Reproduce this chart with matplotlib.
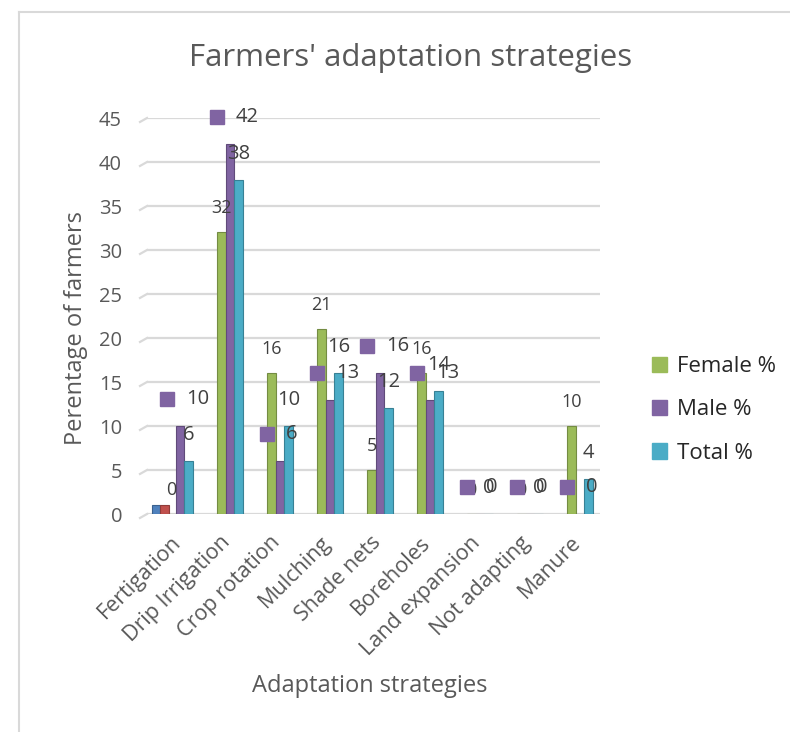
import numpy as np
import matplotlib
matplotlib.use('Agg')
import matplotlib.pyplot as plt
from matplotlib.transforms import offset_copy, ScaledTranslation
from matplotlib.patches import Patch
from matplotlib.lines import Line2D

plt.rcParams['font.family'] = ['Open Sans', 'DejaVu Sans']

# data
strategies = ['Fertigation', 'Drip Irrigation', 'Crop rotation', 'Mulching', 'Shade nets',
              'Boreholes', 'Land expansion', 'Not adapting', 'Manure']
female = [0, 32, 16, 21, 5, 16, 0, 0, 10]
male = [10, 42, 6, 13, 16, 13, 0, 0, 0]
total = [6, 38, 10, 16, 12, 14, 0, 0, 4]
# two stray unlabeled series that only show at Fertigation
stray_blue = [1]
stray_red = [1]

c_green = '#9BBB59'
c_purple = '#8064A2'
c_cyan = '#4BACC6'
c_blue = '#4F81BD'
c_red = '#C0504D'
grey = '#595959'
lbl = '#404040'

fig = plt.figure(figsize=(7.9, 7.32), dpi=100)
ax = fig.add_axes([147/790, 1-514/732, (600-147)/790, (514-118)/732])

x = np.arange(len(strategies))
w = 0.17

def shade(c, f=0.75):
    r, g, b = matplotlib.colors.to_rgb(c)
    return (r*f, g*f, b*f)

ax.bar(x[:1]-3*w+0.03, stray_blue, w, color=c_blue, edgecolor=shade(c_blue), lw=0.8, zorder=3)
ax.bar(x[:1]-2*w+0.03, stray_red, w, color=c_red, edgecolor=shade(c_red), lw=0.8, zorder=3)
ax.bar(x-w, female, w, color=c_green, edgecolor=shade(c_green), lw=0.8, zorder=3)
ax.bar(x, male, w, color=c_purple, edgecolor=shade(c_purple), lw=0.8, zorder=3)
ax.bar(x+w, total, w, color=c_cyan, edgecolor=shade(c_cyan), lw=0.8, zorder=3)

ax.set_xlim(-0.66, 8.4)
ax.set_ylim(0, 45)
ax.set_yticks(np.arange(0, 46, 5))
ax.yaxis.grid(True, color='#D9D9D9', lw=1.6, zorder=0)
ax.set_axisbelow(True)
for s in ax.spines.values():
    s.set_visible(False)
ax.tick_params(axis='both', length=0, colors=grey)
ax.tick_params(axis='y', labelsize=14.5, pad=18)
ax.set_xticks(x)
ax.set_xticklabels(strategies, rotation=45, ha='right', rotation_mode='anchor', fontsize=15.5)
ax.tick_params(axis='x', pad=13)
shift = ScaledTranslation(-10/100, 0, fig.dpi_scale_trans)
for t in ax.get_xticklabels():
    t.set_transform(t.get_transform() + shift)

# little slanted stubs at the left end of the gridlines
for v in np.arange(0, 46, 5):
    ax.plot([-0.8, -0.66], [v-0.45, v], color='#D9D9D9', lw=1.6, clip_on=False, zorder=0)

# data labels
t_f = offset_copy(ax.transData, fig=fig, x=0, y=24, units='dots')
t_t = offset_copy(ax.transData, fig=fig, x=0, y=26, units='dots')
t_mk = offset_copy(ax.transData, fig=fig, x=-13, y=27, units='dots')
t_mt = offset_copy(ax.transData, fig=fig, x=6, y=27, units='dots')
for i in range(len(strategies)):
    ax.text(x[i]-w, female[i], str(female[i]), transform=t_f, ha='center', va='center',
            fontsize=13, color=lbl)
    ax.text(x[i]+w, total[i], str(total[i]), transform=t_t, ha='center', va='center',
            fontsize=14.5, color=lbl)
    ax.plot(x[i], male[i], 's', transform=t_mk, ms=10, color=c_purple, clip_on=False, zorder=5)
    ax.text(x[i], male[i], str(male[i]), transform=t_mt, ha='left', va='center',
            fontsize=14.5, color=lbl, zorder=6)

handles = [Patch(color=c_green), Patch(color=c_purple), Patch(color=c_cyan)]
fig.legend(handles, ['Female %', 'Male %', 'Total %'], loc='center left',
           bbox_to_anchor=(632/790, 1-410/732), frameon=False, fontsize=16,
           handlelength=0.68, handleheight=0.68, handletextpad=0.45, labelspacing=1.0,
           labelcolor='#262626')

fig.text(0.52, 1-58/732, "Farmers' adaptation strategies", ha='center', va='center',
         fontsize=22.5, color=grey)
fig.text(76/790, 1-328/732, 'Perentage of farmers', rotation=90, ha='center', va='center',
         fontsize=17, color=grey)
fig.text(370/790, 1-686/732, 'Adaptation strategies', ha='center', va='center',
         fontsize=17, color=grey)

# chart frame
fig.add_artist(Line2D([19/790, 19/790], [0, 1-12/732], color='#D9D9D9', lw=1.5))
fig.add_artist(Line2D([19/790, 1], [1-12/732, 1-12/732], color='#D9D9D9', lw=1.5))

fig.savefig('out.png', dpi=100)
